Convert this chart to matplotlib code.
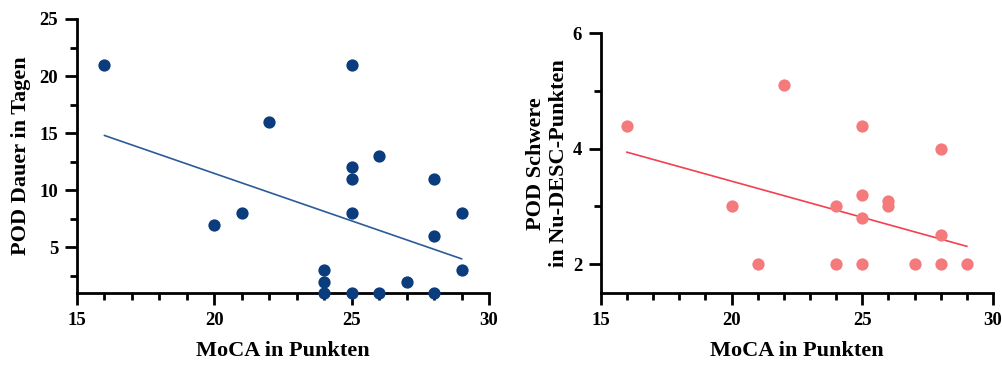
import matplotlib.pyplot as plt
from matplotlib.ticker import MultipleLocator
import numpy as np

plt.rcParams['font.family'] = ['Liberation Serif', 'DejaVu Serif']
plt.rcParams['font.weight'] = 'bold'

# left panel: MoCA vs POD duration
moca_a = [16, 20, 21, 22, 24, 24, 24, 25, 25, 25, 25, 25, 26, 26, 27, 28, 28, 28, 29, 29]
dauer = [21, 7, 8, 16, 3, 2, 1, 21, 12, 11, 8, 1, 13, 1, 2, 11, 6, 1, 8, 3]
fit_a_x = [16, 29]
fit_a_y = [14.8, 4.0]

# right panel: MoCA vs Nu-DESC severity
moca_b = [16, 20, 21, 22, 24, 24, 25, 25, 25, 25, 26, 26, 27, 28, 28, 28, 29]
schwere = [4.4, 3.0, 2.0, 5.1, 3.0, 2.0, 4.4, 3.2, 2.8, 2.0, 3.1, 3.0, 2.0, 4.0, 2.5, 2.0, 2.0]
fit_b_x = [16, 29]
fit_b_y = [3.94, 2.31]

fig = plt.figure(figsize=(10.03, 3.65), dpi=100)
ax1 = fig.add_axes([0.0768, 0.197, 0.4108, 0.751])
ax2 = fig.add_axes([0.599, 0.197, 0.391, 0.712])


def style(ax):
    for s in ['top', 'right']:
        ax.spines[s].set_visible(False)
    for s in ['left', 'bottom']:
        ax.spines[s].set_linewidth(2.0)
    ax.tick_params(which='major', length=8.5, width=2.0, labelsize=13.5, pad=5)
    ax.tick_params(which='minor', length=5, width=2.0)
    ax.xaxis.set_major_locator(MultipleLocator(5))
    ax.xaxis.set_minor_locator(MultipleLocator(1))
    ax.set_xlim(15, 30)
    for lab in ax.get_xticklabels() + ax.get_yticklabels():
        lab.set_fontweight('bold')
    ax.set_xlabel('MoCA in Punkten', fontsize=16, fontweight='bold', labelpad=9)


ax1.scatter(moca_a, dauer, s=78, color='#0b3c7d', zorder=3, clip_on=False, linewidths=0)
ax1.plot(fit_a_x, fit_a_y, color='#2c5b98', lw=1.2)
ax1.set_ylim(1, 25)
ax1.yaxis.set_minor_locator(MultipleLocator(2.5))
ax1.set_yticks([5, 10, 15, 20, 25])
style(ax1)
ax1.set_ylabel('POD Dauer in Tagen', fontsize=16, fontweight='bold', labelpad=6)

ax2.scatter(moca_b, schwere, s=78, color='#f57a7c', zorder=3, clip_on=False, linewidths=0)
ax2.plot(fit_b_x, fit_b_y, color='#f2404e', lw=1.2)
ax2.set_ylim(1.5, 6)
ax2.set_yticks([2, 4, 6])
ax2.yaxis.set_minor_locator(MultipleLocator(1))
style(ax2)
ax2.set_ylabel('POD Schwere\nin Nu-DESC-Punkten', fontsize=16, fontweight='bold', labelpad=3,
               linespacing=1.15)

fig.savefig('out.png', dpi=100)
